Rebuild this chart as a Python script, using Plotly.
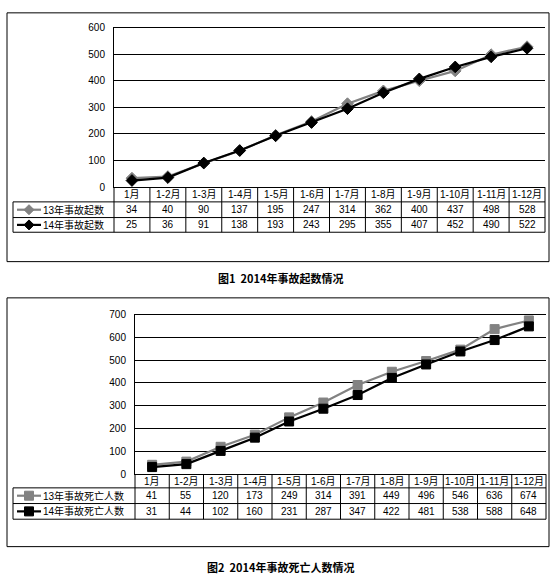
import plotly.graph_objects as go

# data
months = ["1月", "1-2月", "1-3月", "1-4月", "1-5月", "1-6月",
          "1-7月", "1-8月", "1-9月", "1-10月", "1-11月", "1-12月"]
acc13 = [34, 40, 90, 137, 195, 247, 314, 362, 400, 437, 498, 528]
acc14 = [25, 36, 91, 138, 193, 243, 295, 355, 407, 452, 490, 522]
dead13 = [41, 55, 120, 173, 249, 314, 391, 449, 496, 546, 636, 674]
dead14 = [31, 44, 102, 160, 231, 287, 347, 422, 481, 538, 588, 648]

W, H = 559, 583
GRAY = "#828282"
FONT = "Liberation Sans, Noto Sans CJK SC"


def px(x):
    return x / W


def py(y):
    return 1 - y / H


charts = [
    dict(ax="", left=114, right=545, top=22, rows=(185, 200, 216, 231),
         box=(7, 7, 549, 261), cap_y=278, ymax=600, symbol="diamond",
         names=["13年事故起数", "14年事故起数"], data=[acc13, acc14],
         caption="图1  2014年事故起数情况"),
    dict(ax="2", left=135, right=546, top=315, rows=(478, 492, 508, 524),
         box=(7, 298, 549, 552), cap_y=573, ymax=700, symbol="square",
         names=["13年事故死亡人数", "14年事故死亡人数"], data=[dead13, dead14],
         caption="图2  2014年事故死亡人数情况"),
]

fig = go.Figure()
shapes = []
annotations = []
line_style = dict(color="black", width=1)
cell_font = dict(family=FONT, size=10, color="black")


def note(**kw):
    # paper-anchored text must not use the 'auto' anchors (they flip near edges)
    kw.setdefault("xanchor", "center")
    kw.setdefault("yanchor", "middle")
    kw.setdefault("showarrow", False)
    kw.setdefault("borderpad", 0)
    kw.setdefault("font", cell_font)
    annotations.append(kw)


for c in charts:
    xa, ya = "x" + c["ax"], "y" + c["ax"]
    colors = [GRAY, "black"]
    for name, vals, col in zip(c["names"], c["data"], colors):
        fig.add_trace(go.Scatter(
            x=months, y=vals, name=name, mode="lines+markers",
            xaxis=xa, yaxis=ya, showlegend=False, cliponaxis=False,
            line=dict(color=col, width=2.2),
            marker=dict(symbol=c["symbol"], color=col, size=9,
                        line=dict(color=col, width=1))))

    r0, r1, r2, r3 = c["rows"]
    L, R = c["left"], c["right"]
    fig.update_layout(**{
        "xaxis" + c["ax"]: dict(
            domain=[px(L), px(R)], anchor=ya, type="category",
            range=[-0.5, 11.5], showticklabels=False, showgrid=False,
            showline=True, mirror=True, linecolor="black", linewidth=1,
            fixedrange=True),
        "yaxis" + c["ax"]: dict(
            domain=[py(r0), py(c["top"])], anchor=xa, range=[0, c["ymax"]],
            dtick=100, showgrid=True, gridcolor="black", gridwidth=1,
            zeroline=False, showline=True, linecolor="black", linewidth=1,
            ticks="", ticklabelstandoff=6, fixedrange=True,
            tickfont=dict(family=FONT, size=10, color="black")),
    })

    # table grid
    col_w = (R - L) / len(months)
    for i in range(len(months) + 1):
        x = L + i * col_w
        shapes.append(dict(type="line", xref="paper", yref="paper",
                           x0=px(x), x1=px(x), y0=py(r0), y1=py(r3),
                           line=line_style))
    shapes.append(dict(type="line", xref="paper", yref="paper",
                       x0=px(13), x1=px(13), y0=py(r1), y1=py(r3),
                       line=line_style))
    for y in (r1, r2, r3):
        shapes.append(dict(type="line", xref="paper", yref="paper",
                           x0=px(13), x1=px(R), y0=py(y), y1=py(y),
                           line=line_style))

    # header + values
    for m in months:
        note(x=m, xref=xa, y=py((r0 + r1) / 2), yref="paper", text=m)
    for row, vals in zip([(r1 + r2) / 2, (r2 + r3) / 2], c["data"]):
        for m, v in zip(months, vals):
            note(x=m, xref=xa, y=py(row), yref="paper", text=str(v))

    # legend keys in the first column
    for row, name, col in zip([(r1 + r2) / 2, (r2 + r3) / 2], c["names"], colors):
        shapes.append(dict(type="line", xref="paper", yref="paper",
                           x0=px(17), x1=px(41), y0=py(row), y1=py(row),
                           line=dict(color=col, width=2.2)))
        if c["symbol"] == "diamond":
            path = "M0,5 L5,0 L0,-5 L-5,0 Z"
        else:
            path = "M-4.5,-4.5 L4.5,-4.5 L4.5,4.5 L-4.5,4.5 Z"
        shapes.append(dict(type="path", xref="paper", yref="paper",
                           xsizemode="pixel", ysizemode="pixel",
                           xanchor=px(29), yanchor=py(row), path=path,
                           fillcolor=col, line=dict(color=col, width=1)))
        note(x=px(42), xref="paper", y=py(row), yref="paper",
             xanchor="left", text=name)

    # outer frame and caption
    bx0, by0, bx1, by1 = c["box"]
    shapes.append(dict(type="rect", xref="paper", yref="paper",
                       x0=px(bx0), x1=px(bx1), y0=py(by1), y1=py(by0),
                       line=line_style))
    note(x=px(280), xref="paper", y=py(c["cap_y"]), yref="paper",
         text="<b>" + c["caption"] + "</b>",
         font=dict(family="Noto Sans CJK SC", size=11, color="black"))

fig.update_layout(
    width=W, height=H,
    margin=dict(l=0, r=0, t=0, b=0),
    paper_bgcolor="white", plot_bgcolor="white",
    shapes=shapes, annotations=annotations,
    showlegend=False,
)

# page margin would push the fixed-size figure off the window
fig.write_html("out.html", config={"displayModeBar": False},
               post_script="document.body.style.margin='0';"
                           "document.body.style.overflow='hidden';")
